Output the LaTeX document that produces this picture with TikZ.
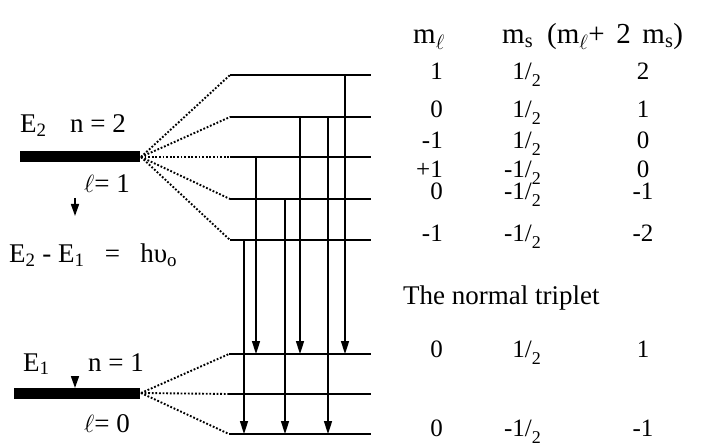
\documentclass[tikz,border=0pt]{standalone}
\usepackage{fontspec}
\setmainfont{Liberation Serif}
\usetikzlibrary{arrows.meta}
\begin{document}
\begin{tikzpicture}[x=1pt,y=-1pt,
  txt/.style={inner sep=0pt,font=\fontsize{27}{30}\selectfont},
  hdr/.style={inner sep=0pt,font=\fontsize{29}{30}\selectfont},
  num/.style={inner sep=0pt,font=\fontsize{25}{28}\selectfont},
  level/.style={line width=1.8pt},
  fan/.style={line width=1.9pt,dash pattern=on 1.8pt off 1.8pt},
  bar/.style={line width=11pt},
  trans/.style={line width=1.6pt,-{Triangle[width=8pt,length=13pt]}},
  tick/.style={line width=1.6pt,-{Triangle[width=8pt,length=12pt]}}]
\useasboundingbox (0,0) rectangle (701,446);
\newcommand{\hf}[1]{#1/\raisebox{-0.28em}{\fontsize{18}{18}\selectfont 2}}
% bars
\coordinate (E2a) at (20,157); \coordinate (E2b) at (140,157);
\coordinate (E1a) at (14,393); \coordinate (E1b) at (140,393);
\draw[bar] (E2a) -- (E2b);
\draw[bar] (E1a) -- (E1b);
\coordinate (F2) at (141,157);
\coordinate (F1) at (141,393);
% upper levels
\foreach \i/\y in {1/75,2/117,3/157,4/199,5/240}{
  \coordinate (uL\i) at (230,\y); \coordinate (uR\i) at (371,\y);
  \draw[level] (uL\i) -- (uR\i);
  \draw[fan] (F2) -- (uL\i);
}
% lower levels
\foreach \i/\y in {1/354,2/394,3/434}{
  \coordinate (lL\i) at (229,\y); \coordinate (lR\i) at (371,\y);
  \draw[level] (lL\i) -- (lR\i);
  \draw[fan] (F1) -- (lL\i);
}
% transitions
\foreach \n/\x/\a/\b in {1/345/75/354,2/300/117/354,3/328/117/434,4/256/157/354,5/285/199/434,6/244/240/434}{
  \coordinate (ts\n) at (\x,\a); \coordinate (te\n) at (\x,\b);
  \draw[trans] (ts\n) -- (te\n);
}
% small arrows
\coordinate (a2s) at (75,198); \coordinate (a2e) at (75,216);
\draw[tick] (a2s) -- (a2e);
\coordinate (a1s) at (75,376); \coordinate (a1e) at (75,388);
\draw[tick] (a1s) -- (a1e);
% left labels
\node[txt,anchor=base west] (lE2) at (20,133) {E\textsubscript{2}};
\node[txt,anchor=base west] (ln2) at (70,133) {n = 2};
\node[txt,anchor=base west] (ll1) at (84,193) {$\ell$= 1};
\node[txt,anchor=base west] (ldE) at (9,263) {E\textsubscript{2} - E\textsubscript{1} \ \ = \ \ hυ\textsubscript{o}};
\node[txt,anchor=base west] (lE1) at (23,371) {E\textsubscript{1}};
\node[txt,anchor=base west] (ln1) at (88,371) {n = 1};
\node[txt,anchor=base west] (ll0) at (84,432) {$\ell$= 0};
% header
\node[hdr,anchor=base west] (h1) at (413,44) {m\textsubscript{$\ell$}};
\node[hdr,anchor=base west] (h2) at (502,44) {m\textsubscript{s}};
\node[hdr,anchor=base west] (h3) at (547,44) {(m\textsubscript{$\ell$}+\hspace{0.4em}2\hspace{0.4em}m\textsubscript{s})};
% rows
\foreach \n/\y/\a/\b/\c in {1/80/1/\hf{1}/2, 2/118/0/\hf{1}/1, 3/149/-1/\hf{1}/0, 4/178/+1/\hf{-1}/0, 5/200/0/\hf{-1}/-1, 6/242/-1/\hf{-1}/-2, 7/357/0/\hf{1}/1, 8/436/0/\hf{-1}/-1}{
  \node[num,anchor=base east] (c1r\n) at (443,\y) {\a};
  \node[num,anchor=base east] (c2r\n) at (541,\y) {\b};
  \node[num,anchor=base] (c3r\n) at (643,\y) {\c};
}
\node[txt,anchor=base west] (trip) at (403,305) {The normal triplet};
\end{tikzpicture}
\end{document}
